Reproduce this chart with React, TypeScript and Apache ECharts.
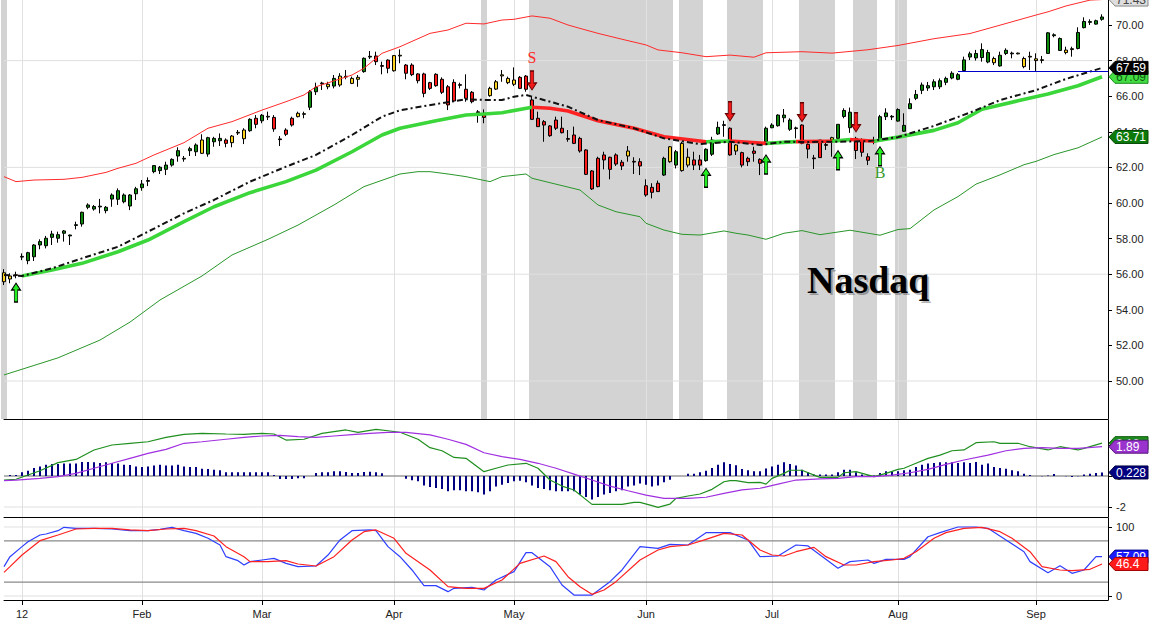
import React, { useEffect, useRef } from "react";
import * as echarts from "echarts";

// ---------- trading days ----------
const decDays = [28, 29, 30];
const janDays = [3, 4, 5, 6, 9, 10, 11, 12, 13, 17, 18, 19, 20, 23, 24, 25, 26, 27, 30, 31];
const febDays = [1, 2, 3, 6, 7, 8, 9, 10, 13, 14, 15, 16, 17, 21, 22, 23, 24, 27, 28, 29];
const marDays = [1, 2, 5, 6, 7, 8, 9, 12, 13, 14, 15, 16, 19, 20, 21, 22, 23, 26, 27, 28, 29, 30];
const aprDays = [2, 3, 4, 5, 9, 10, 11, 12, 13, 16, 17, 18, 19, 20, 23, 24, 25, 26, 27, 30];
const mayDays = [1, 2, 3, 4, 7, 8, 9, 10, 11, 14, 15, 16, 17, 18, 21, 22, 23, 24, 25, 29, 30, 31];
const junDays = [1, 4, 5, 6, 7, 8, 11, 12, 13, 14, 15, 18, 19, 20, 21, 22, 25, 26, 27, 28, 29];
const julDays = [2, 3, 5, 6, 9, 10, 11, 12, 13, 16, 17, 18, 19, 20, 23, 24, 25, 26, 27, 30, 31];
const augDays = [1, 2, 3, 6, 7, 8, 9, 10, 13, 14, 15, 16, 17, 20, 21, 22, 23, 24, 27, 28, 29, 30, 31];
const sepDays = [4, 5, 6, 7, 10, 11, 12, 13, 14, 17, 18, 19];
const monthAbbr = ["Jan", "Feb", "Mar", "Apr", "May", "Jun", "Jul", "Aug", "Sep", "Oct", "Nov", "Dec"];

// ---------- price bars ----------
const opens = [
  56.08, 55.9, 55.97, 56.96, 56.76, 56.98, 57.64, 57.6, 58.07, 58.02,
  58.3, 58.15, 58.74, 58.82, 59.76, 59.66, 59.78, 59.57, 60.22, 60.21,
  60.07, 59.83, 60.52, 60.86, 61.22, 61.76, 61.82, 61.89, 62.13, 62.64,
  62.51, 62.94, 62.88, 63.54, 62.75, 63.44, 63.5, 63.54, 63.76, 63.97,
  64.1, 64.06, 64.76, 64.62, 64.87, 64.81, 63.6, 64.1, 64.76, 65.04,
  65.02, 65.38, 66.25, 66.74, 66.67, 66.57, 67.13, 67.12, 67.0, 67.06,
  67.38, 68.2, 68.26, 67.72, 68.03, 68.28, 68.3, 67.75, 67.75, 67.25,
  67.25, 66.76, 67.23, 66.95, 66.53, 66.78, 66.65, 66.39, 66.22, 65.12,
  65.0, 66.44, 66.81, 67.2, 67.0, 66.91, 67.06, 67.13, 65.79, 64.76,
  64.57, 64.33, 64.66, 64.2, 63.62, 63.82, 63.63, 62.98, 61.8, 62.51,
  62.7, 62.57, 62.7, 62.29, 62.92, 62.34, 62.32, 60.97, 60.88, 61.11,
  61.57, 63.16, 62.13, 63.35, 62.57, 62.42, 62.42, 62.38, 62.74, 63.88,
  64.36, 64.2, 63.26, 62.83, 62.51, 62.92, 62.45, 63.44, 64.23, 64.34,
  64.79, 64.14, 64.22, 64.38, 63.3, 62.53, 63.54, 63.28, 63.67, 63.63,
  64.86, 64.23, 63.63, 63.54, 62.6, 63.5, 63.55, 64.85, 64.83, 64.6,
  64.03, 65.3, 65.88, 66.33, 66.46, 66.53, 66.53, 66.78, 67.02, 66.95,
  67.44, 68.2, 68.15, 68.17, 67.92, 68.12, 67.7, 68.4, 68.38, 68.42,
  68.12, 68.24, 68.1, 68.05, 68.4, 69.4, 68.57, 68.59, 68.67, 68.68,
  69.85, 70.15, 70.05, 70.32,
];
const closes = [
  55.58, 55.73, 55.93, 57.0, 57.21, 57.64, 57.83, 58.02, 58.26, 58.22,
  58.43, 58.2, 58.78, 59.48, 59.89, 59.8, 59.82, 59.76, 60.45, 60.69,
  60.45, 60.45, 60.8, 61.07, 61.26, 62.1, 62.01, 62.13, 62.45, 62.94,
  62.47, 63.05, 63.26, 62.79, 63.67, 63.63, 63.63, 63.35, 63.39, 63.93,
  63.61, 64.7, 64.42, 64.93, 64.83, 64.16, 63.56, 63.86, 64.38, 64.85,
  64.98, 66.25, 66.5, 66.7, 66.53, 67.0, 66.63, 67.08, 66.72, 66.95,
  68.13, 68.24, 67.94, 67.68, 67.57, 67.43, 68.26, 67.29, 67.21, 66.87,
  66.16, 66.44, 66.59, 66.22, 65.51, 65.73, 66.61, 65.88, 65.69, 65.08,
  64.81, 66.03, 66.4, 67.14, 66.76, 66.67, 66.44, 66.39, 64.7, 64.29,
  64.38, 63.78, 64.2, 63.95, 63.58, 63.35, 62.92, 61.61, 60.79, 60.92,
  62.42, 61.89, 62.19, 62.08, 62.64, 62.3, 62.08, 60.45, 60.6, 60.64,
  62.51, 62.32, 62.88, 61.82, 62.13, 62.13, 62.13, 63.02, 63.54, 64.25,
  64.4, 62.7, 62.92, 62.13, 62.32, 62.79, 62.23, 64.2, 64.38, 64.94,
  64.94, 64.66, 64.18, 63.35, 63.03, 62.49, 62.55, 63.24, 63.54, 64.42,
  65.2, 65.1, 62.95, 62.85, 62.4, 63.42, 64.85, 65.06, 64.87, 65.25,
  64.36, 65.58, 66.1, 66.63, 66.59, 66.81, 66.87, 67.0, 67.29, 67.21,
  68.04, 68.38, 68.4, 68.62, 68.45, 67.88, 68.3, 68.58, 68.42, 68.38,
  67.66, 68.2, 68.0, 68.01, 69.56, 69.45, 69.24, 68.45, 68.62, 69.58,
  70.2, 70.19, 70.24, 70.45,
];
const highs = [
  56.28, 56.05, 56.14, 57.17, 57.26, 57.69, 57.96, 58.15, 58.44, 58.39,
  58.48, 58.22, 58.95, 59.51, 59.98, 59.89, 60.23, 59.83, 60.54, 60.82,
  60.54, 60.5, 60.91, 61.29, 61.44, 62.13, 62.08, 62.32, 62.51, 63.13,
  62.64, 63.16, 63.35, 63.86, 63.72, 63.72, 63.91, 63.63, 63.82, 64.1,
  64.2, 64.76, 64.94, 65.0, 65.13, 64.94, 63.76, 64.2, 64.85, 65.13,
  65.13, 66.35, 66.76, 66.81, 66.81, 67.19, 67.29, 67.47, 67.1, 67.19,
  68.18, 68.54, 68.5, 67.94, 68.07, 68.31, 68.63, 67.81, 67.85, 67.29,
  67.32, 66.81, 67.29, 67.06, 66.63, 66.95, 66.76, 67.23, 66.29, 65.22,
  65.26, 66.53, 66.91, 67.47, 67.1, 67.62, 67.13, 67.19, 65.97, 65.13,
  64.66, 64.38, 64.85, 64.85, 64.1, 64.29, 63.72, 63.02, 61.85, 62.6,
  62.88, 62.6, 62.79, 62.42, 63.2, 62.57, 62.51, 61.33, 61.11, 61.26,
  62.6, 63.2, 62.98, 63.44, 63.07, 62.88, 62.7, 63.07, 63.72, 64.57,
  64.62, 64.25, 63.3, 62.88, 62.6, 63.16, 62.51, 64.29, 64.48, 64.98,
  65.28, 64.76, 64.29, 64.42, 63.35, 62.7, 63.54, 63.41, 63.72, 64.42,
  65.32, 65.36, 63.72, 63.63, 62.79, 63.72, 64.95, 65.32, 64.94, 65.32,
  65.04, 65.88, 66.35, 66.77, 66.8, 66.95, 67.0, 67.1, 67.4, 67.3,
  68.22, 68.5, 68.6, 68.97, 68.6, 68.22, 68.5, 68.69, 68.5, 68.45,
  68.22, 68.5, 68.41, 68.26, 69.6, 69.53, 69.3, 68.78, 68.78, 69.87,
  70.43, 70.32, 70.3, 70.6,
];
const lows = [
  55.39, 55.49, 55.77, 56.79, 56.56, 56.74, 57.4, 57.45, 57.64, 57.77,
  57.83, 57.64, 58.52, 58.67, 59.65, 59.57, 59.42, 59.42, 59.79, 59.89,
  59.98, 59.6, 60.17, 60.69, 60.95, 61.67, 61.63, 61.57, 62.04, 62.32,
  62.32, 62.64, 62.64, 62.75, 62.6, 63.16, 63.2, 63.13, 63.13, 63.82,
  63.31, 64.0, 64.2, 64.48, 64.66, 64.0, 63.2, 63.76, 64.29, 64.81,
  64.76, 65.22, 66.07, 66.35, 66.39, 66.44, 66.53, 66.95, 66.68, 66.53,
  67.32, 68.09, 67.75, 67.23, 67.29, 67.38, 67.85, 66.95, 67.13, 66.72,
  65.94, 66.35, 66.53, 66.12, 65.22, 65.69, 66.44, 65.69, 65.6, 64.51,
  64.48, 65.97, 66.35, 66.81, 66.68, 66.57, 66.4, 66.25, 64.66, 64.29,
  63.44, 63.72, 64.1, 63.91, 63.44, 63.31, 62.83, 61.57, 60.73, 60.88,
  61.89, 61.33, 62.08, 61.85, 62.32, 61.63, 61.57, 60.35, 60.26, 60.64,
  61.52, 62.26, 61.94, 61.76, 62.0, 61.85, 61.85, 62.32, 62.64, 63.82,
  63.72, 62.66, 62.7, 62.0, 62.08, 62.32, 61.57, 63.41, 64.2, 64.29,
  64.53, 64.05, 63.63, 63.3, 62.51, 61.91, 62.55, 62.98, 62.6, 63.63,
  64.76, 63.94, 62.47, 62.6, 62.13, 63.3, 63.5, 64.66, 64.66, 64.57,
  64.0, 65.28, 65.78, 66.12, 66.3, 66.35, 66.4, 66.62, 66.95, 66.9,
  67.43, 68.03, 68.0, 67.94, 67.85, 67.75, 67.66, 68.31, 68.13, 68.35,
  67.57, 67.47, 67.42, 67.85, 68.38, 69.31, 68.55, 68.35, 68.22, 68.63,
  69.81, 70.0, 70.02, 70.24,
];
// impulse colour per bar: G green, R red, Y yellow
const impulse =
  "YYRGGGGGGG" + "GGGGGGGGGG" + "GGGGGGGGGG" + "YGGYGGGRYY" + "YGRGYRRRRY" +
  "YGGRYGYYYY" + "GGRRRYYRRR" + "RRRRRRRRRR" + "RYYYYYRRRR" + "RRRRRRRRRR" +
  "RRRRYRRRRR" + "GYGYYRRGGG" + "GRYRRRRGGG" + "GGYRRRRRYG" + "GGRRRRGGGG" +
  "GGGGGGGGGG" + "GGGGGYGGGY" + "YYYYGGGYYG" + "GGGG";

// ---------- overlays (bar index, value) ----------
const upperBand = [
  [0, 61.48], [2, 61.2], [5, 61.29], [10, 61.33], [13, 61.44], [17, 61.72], [19, 61.95], [22, 62.23],
  [25, 62.7], [30, 63.39], [34, 64.2], [38, 64.57], [43, 65.22], [47, 65.69], [50, 66.07], [52, 66.53],
  [58, 67.19], [60, 67.57], [63, 68.41], [66, 68.78], [71, 69.53], [74, 69.72], [77, 70.1], [80, 70.06],
  [83, 70.28], [85, 70.32], [88, 70.51], [91, 70.38], [94, 70.0], [96, 69.81], [99, 69.53], [103, 69.2],
  [107, 68.88], [109, 68.6], [113, 68.44], [117, 68.22], [121, 68.31], [125, 68.19], [127, 68.44],
  [133, 68.5], [138, 68.42], [144, 68.61], [149, 68.85], [155, 69.23], [161, 69.52], [166, 69.99],
  [172, 70.56], [174, 70.74], [177, 71.07], [181, 71.4], [183, 71.43],
];
const lowerBand = [
  [0, 50.34], [9, 51.3], [16, 52.3], [21, 53.31], [26, 54.55], [33, 55.9], [38, 57.08], [44, 57.96],
  [49, 58.76], [55, 59.89], [60, 60.92], [66, 61.63], [69, 61.76], [71, 61.76], [74, 61.63], [77, 61.48],
  [81, 61.2], [83, 61.48], [87, 61.63], [88, 61.39], [91, 61.14], [96, 60.73], [99, 59.89], [102, 59.51],
  [106, 59.23], [107, 58.86], [110, 58.48], [113, 58.24], [116, 58.2], [120, 58.43], [122, 58.3],
  [124, 58.2], [127, 57.96], [130, 58.3], [133, 58.45], [136, 58.22], [141, 58.47], [146, 58.19],
  [149, 58.51], [151, 58.56], [155, 59.61], [159, 60.36], [162, 61.06], [166, 61.58], [170, 62.15],
  [172, 62.34], [175, 62.72], [179, 63.1], [183, 63.71],
];
const midBand = [
  [0, 55.96], [3, 55.9], [8, 56.33], [13, 56.89], [19, 57.54], [24, 58.39], [30, 59.42], [35, 60.17],
  [41, 61.2], [47, 62.04], [52, 62.7], [58, 63.82], [63, 64.85], [66, 65.21], [72, 65.56], [77, 65.83],
  [80, 65.79], [83, 65.79], [85, 65.97], [87, 66.07], [89, 65.88], [94, 65.41], [99, 64.66], [105, 64.2],
  [110, 63.63], [116, 63.31], [121, 63.44], [126, 63.26], [130, 63.44], [133, 63.43], [138, 63.44],
  [144, 63.47], [149, 63.7], [155, 64.33], [161, 65.08], [166, 65.78], [172, 66.34], [177, 66.97],
  [183, 67.59],
];
const thickMA = [
  [3, 55.9], [8, 56.24], [13, 56.61], [19, 57.26], [24, 57.92], [30, 58.95], [35, 59.79], [41, 60.58],
  [47, 61.2], [52, 61.85], [58, 62.88], [63, 63.82], [66, 64.2], [72, 64.62], [77, 64.94], [80, 65.0],
  [83, 65.07], [88, 65.38], [91, 65.32], [94, 65.17], [99, 64.62], [105, 64.2], [110, 63.72], [117, 63.44],
  [121, 63.48], [127, 63.35], [132, 63.45], [138, 63.47], [141, 63.57], [145, 63.47], [149, 63.7],
  [155, 64.08], [159, 64.51], [163, 65.27], [169, 65.74], [174, 66.12], [179, 66.59], [183, 67.09],
];
const thickSegments = [
  [3, 88, "G"], [88, 117, "R"], [117, 121, "G"], [121, 127, "R"], [127, 132, "G"],
  [132, 138, "R"], [138, 141, "G"], [141, 145, "R"], [145, 183, "G"],
];
const shadedRanges = [[0, 0], [80, 80], [88, 111], [113, 116], [121, 126], [133, 138], [142, 145], [149, 150]];
const buySignals = [[2, 55.5], [117, 61.95], [127, 62.7], [139, 62.94], [146, 63.16]];
const sellSignals = [[88, 66.35], [121, 64.62], [133, 64.57], [142, 64.0]];
const signalLetters = [[88, 68.15, "S"], [146, 61.72, "B"]];
const supportLine = [159, 184, 67.4];
const priceTicks = [50, 52, 54, 56, 58, 60, 62, 64, 66, 68, 70];
const priceGridLines = [50, 56, 62, 68];

// ---------- MACD ----------
const macdLine = [
  [0, -0.26], [2, -0.21], [6, 0.34], [9, 0.86], [12, 1.07], [15, 1.68], [18, 2.0], [21, 2.11], [24, 2.21],
  [27, 2.49], [30, 2.69], [33, 2.75], [37, 2.71], [40, 2.69], [43, 2.75], [45, 2.71], [47, 2.32], [50, 2.37],
  [53, 2.75], [57, 2.97], [59, 2.82], [62, 3.01], [64, 2.92], [66, 2.82], [69, 2.37], [71, 1.83], [73, 1.63],
  [75, 1.2], [77, 1.14], [80, 0.28], [82, 0.5], [84, 0.71], [87, 0.82], [89, 0.5], [91, -0.26], [93, -0.65],
  [95, -0.9], [98, -1.83], [101, -1.83], [103, -1.83], [105, -1.7], [106, -1.7], [108, -1.91], [109, -2.02],
  [111, -1.81], [112, -1.44], [114, -1.29], [116, -1.16], [118, -0.86], [120, -0.37], [121, -0.3],
  [122, -0.3], [124, -0.43], [126, -0.41], [127, -0.52], [128, -0.15], [130, 0.17], [131, 0.37], [133, 0.37],
  [135, 0.06], [136, -0.09], [139, -0.09], [140, 0.21], [142, 0.28], [145, -0.04], [147, 0.17], [149, 0.43],
  [150, 0.5], [152, 0.82], [154, 1.14], [156, 1.35], [158, 1.63], [160, 1.68], [162, 2.15], [165, 2.21],
  [166, 2.11], [169, 2.11], [171, 1.89], [174, 1.68], [176, 1.89], [179, 1.68], [180, 1.78], [183, 2.12],
];
const signalLine = [
  [0, -0.3], [2, -0.26], [6, -0.15], [9, -0.04], [12, 0.17], [15, 0.5], [18, 0.82], [21, 1.14], [24, 1.46],
  [27, 1.72], [30, 2.11], [33, 2.21], [37, 2.37], [40, 2.49], [43, 2.58], [46, 2.62], [49, 2.54], [52, 2.49],
  [55, 2.58], [58, 2.67], [61, 2.75], [64, 2.82], [67, 2.82], [71, 2.65], [74, 2.37], [77, 2.04], [80, 1.5],
  [83, 1.25], [86, 1.07], [89, 0.82], [92, 0.5], [95, 0.12], [98, -0.26], [101, -0.65], [104, -0.95],
  [107, -1.23], [110, -1.44], [114, -1.44], [117, -1.37], [120, -1.12], [123, -0.9], [126, -0.79],
  [129, -0.52], [132, -0.26], [136, -0.19], [139, -0.15], [142, -0.04], [145, -0.04], [148, 0.06],
  [151, 0.21], [154, 0.43], [157, 0.75], [160, 1.03], [164, 1.35], [167, 1.63], [170, 1.78], [173, 1.83],
  [176, 1.78], [179, 1.78], [183, 1.89],
];
const histogram = [
  0, 0.06, 0.06, 0.24, 0.34, 0.52, 0.62, 0.73, 0.77, 0.77,
  0.8, 0.8, 0.8, 0.9, 0.9, 0.88, 0.84, 0.88, 0.84, 0.8,
  0.73, 0.71, 0.62, 0.58, 0.62, 0.67, 0.73, 0.67, 0.67, 0.73,
  0.62, 0.58, 0.58, 0.47, 0.45, 0.41, 0.37, 0.24, 0.24, 0.24,
  0.24, 0.24, 0.24, 0.24, 0.24, 0.06, -0.19, -0.19, -0.19, -0.15,
  -0.15, 0, 0.19, 0.24, 0.24, 0.3, 0.3, 0.26, 0.19, 0.19,
  0.26, 0.28, 0.24, 0.17, 0, 0, 0, -0.17, -0.28, -0.34,
  -0.62, -0.71, -0.77, -0.84, -0.99, -0.92, -0.92, -0.99, -0.99, -1.05,
  -1.2, -0.99, -0.67, -0.56, -0.45, -0.34, -0.3, -0.41, -0.62, -0.77,
  -0.84, -0.92, -0.99, -0.99, -0.99, -0.99, -1.2, -1.35, -1.52, -1.35,
  -1.2, -1.1, -0.99, -0.92, -0.67, -0.62, -0.49, -0.56, -0.67, -0.62,
  -0.41, -0.24, 0, 0, 0.15, 0.15, 0.24, 0.34, 0.52, 0.73,
  0.88, 0.77, 0.69, 0.45, 0.37, 0.3, 0.3, 0.49, 0.62, 0.73,
  0.88, 0.77, 0.67, 0.41, 0.24, 0.09, 0.09, 0.09, 0.09, 0.24,
  0.41, 0.41, 0.24, 0.09, 0.04, 0.04, 0.19, 0.3, 0.3, 0.3,
  0.37, 0.41, 0.58, 0.73, 0.8, 0.84, 0.88, 0.88, 0.88, 0.84,
  0.88, 0.84, 0.9, 0.73, 0.8, 0.58, 0.52, 0.47, 0.37, 0.3,
  0.15, 0.06, 0, -0.02, 0.04, 0.13, 0, -0.02, -0.06, -0.02,
  0.09, 0.15, 0.19, 0.228,
];
const macdTicks = [-2, 0, 2];

// ---------- Stochastics ----------
const stochK = [
  [0, 42.5], [1, 57], [3, 71.5], [4, 78.7], [6, 88.4], [7, 89.9], [9, 94.7], [10, 99.5], [12, 98.1], [15, 98.1],
  [18, 97.1], [21, 94.7], [24, 94.7], [26, 96.6], [28, 99.5], [30, 94.7], [32, 90.8], [34, 83.6], [36, 73.9],
  [37, 57], [39, 51.2], [40, 44.9], [41, 49.8], [43, 52.2], [45, 54.6], [47, 47.3], [49, 42.5], [52, 43.5],
  [54, 59.4], [56, 81.2], [58, 94.7], [61, 95.7], [62, 94.7], [64, 71.5], [66, 57], [68, 37.7], [70, 15],
  [72, 15], [74, 6.3], [75, 11.1], [78, 12.6], [80, 8.7], [82, 23.2], [85, 35.3], [87, 62.8], [88, 62.8],
  [91, 42.5], [93, 15.9], [95, 1.4], [98, 1.4], [101, 20.8], [103, 37.7], [106, 71.5], [109, 69.1],
  [111, 74.9], [114, 73.9], [117, 91.8], [121, 91.8], [124, 81.2], [126, 57], [129, 58], [132, 73.9],
  [134, 72.5], [139, 40.1], [141, 49.8], [144, 52.2], [145, 47.3], [147, 53.1], [150, 53.1], [151, 57],
  [154, 85.9], [156, 91.8], [159, 100], [162, 100], [164, 98.1], [167, 81.2], [170, 64.2], [171, 49.8],
  [174, 33.8], [176, 43.9], [178, 32.9], [180, 37.7], [182, 57], [183, 57.09],
];
const stochD = [
  [0, 34.3], [1, 42.5], [3, 59.4], [6, 80.2], [9, 88.4], [12, 97.1], [15, 98.1], [18, 98.1], [21, 95.7],
  [24, 94.7], [27, 97.1], [30, 98.1], [32, 94.7], [35, 87], [37, 71.5], [40, 57], [41, 49.8], [44, 49.8],
  [47, 51.2], [49, 46.4], [52, 43.5], [55, 57], [58, 81.2], [60, 93.2], [62, 95.7], [65, 83.6], [67, 61.8],
  [71, 37.7], [74, 13.5], [77, 11.1], [80, 11.1], [83, 23.2], [86, 47.3], [90, 58], [92, 49.8], [94, 28],
  [96, 13.5], [98, 2.4], [100, 8.7], [102, 20.8], [106, 52.2], [109, 66.7], [111, 71.5], [114, 73.9],
  [117, 82.1], [120, 90.8], [123, 88.4], [126, 66.7], [128, 59.4], [130, 58], [132, 64.2], [135, 70.5],
  [137, 57], [140, 44.9], [142, 44.9], [145, 49.8], [148, 52.2], [150, 54.6], [152, 64.2], [155, 83.6],
  [157, 91.8], [160, 98.1], [163, 99.5], [166, 93.2], [168, 83.6], [171, 64.2], [173, 42.5], [176, 37.7],
  [178, 36.7], [181, 38.7], [183, 46.4],
];
const stochTicks = [0, 100];

// ---------- last-value tags ----------
const tagAxes = [0, 0, 0, 0, 1, 1, 1, 2, 2];
const tagValues = [71.43, 67.09, 67.59, 63.71, 2.12, 1.89, 0.228, 57.09, 46.4];
const tagTexts = ["71.43", "67.09", "67.59", "63.71", "2.12", "1.89", "0.228", "57.09", "46.4"];
const tagFills = ["#dedede", "#44dd44", "#000000", "#0b7a0b", "#1f8f1f", "#9a32cd", "#000080", "#1a1aff", "#ff1a1a"];
const tagInks = ["#444", "#0b5a0b", "#ffffff", "#ffffff", "#ffffff", "#ffffff", "#ffffff", "#ffffff", "#ffffff"];
const tagStrokes = ["#888", "#1a8a1a", "#000", "#064a06", "#0d5d0d", "#5a1a80", "#000040", "#000080", "#a00000"];

// ---------- build ----------
const GREEN = "#0b8a0b";
const RED = "#ff1a1a";
const YELLOW = "#ffd21f";

function buildCategories() {
  const out: string[] = [];
  const add = (y: number, m: number, days: number[]) =>
    days.forEach((d) => out.push(`${y}-${String(m).padStart(2, "0")}-${String(d).padStart(2, "0")}`));
  add(2011, 12, decDays);
  add(2012, 1, janDays);
  add(2012, 2, febDays);
  add(2012, 3, marDays);
  add(2012, 4, aprDays);
  add(2012, 5, mayDays);
  add(2012, 6, junDays);
  add(2012, 7, julDays);
  add(2012, 8, augDays);
  add(2012, 9, sepDays);
  out.push("");
  return out;
}

const categories = buildCategories();
const monthStart = new Set<number>();
for (let i = 1; i < categories.length - 1; i++) {
  if (categories[i].slice(5, 7) !== categories[i - 1].slice(5, 7)) monthStart.add(i);
}
const isMonthStart = (i: number) => monthStart.has(i);
const monthLabel = (i: number) => {
  const c = categories[i];
  if (!c || !monthStart.has(i)) return "";
  const m = parseInt(c.slice(5, 7), 10);
  return m === 1 ? c.slice(2, 4) : monthAbbr[m - 1];
};

const UP_ARROW = "path://M4.5,0 L9,7 L6.2,7 L6.2,19 L2.8,19 L2.8,7 L0,7 Z";
const DOWN_ARROW = "path://M2.8,0 L6.2,0 L6.2,12 L9,12 L4.5,19 L0,12 L2.8,12 Z";
const LABEL_FONT = "Liberation Sans";

function thickData(color: string) {
  const out: any[] = [];
  thickSegments
    .filter((s) => s[2] === color)
    .forEach((s) => {
      const a = s[0] as number;
      const b = s[1] as number;
      thickMA.filter((p) => p[0] >= a && p[0] <= b).forEach((p) => out.push(p));
      out.push([b, null]);
    });
  return out;
}

function hLineSeries(grid: number, values: number[], color: string, width: number) {
  return {
    type: "custom",
    xAxisIndex: grid,
    yAxisIndex: grid,
    z: 0,
    silent: true,
    data: values.map((v) => [0, v]),
    renderItem: (params: any, api: any) => {
      const cs = params.coordSys;
      const y = api.coord([0, api.value(1)])[1];
      return {
        type: "line",
        shape: { x1: cs.x, y1: y, x2: cs.x + cs.width, y2: y },
        style: { stroke: color, lineWidth: width },
      };
    },
  };
}

function lineSeries(grid: number, data: any[], color: string, width: number, z = 3, type: any = "solid") {
  return {
    type: "line",
    xAxisIndex: grid,
    yAxisIndex: grid,
    data,
    showSymbol: false,
    symbol: "none",
    silent: true,
    z,
    lineStyle: { color, width, type },
  };
}

function buildOption() {
  const candleData = opens.map((o, i) => {
    const c = impulse[i] === "G" ? GREEN : impulse[i] === "R" ? RED : YELLOW;
    return {
      value: [o, closes[i], lows[i], highs[i]],
      itemStyle: { color: c, color0: c, borderColor: "#000", borderColor0: "#000", borderWidth: 1 },
    };
  });

  const xAxisBase = (grid: number) => ({
    type: "category",
    gridIndex: grid,
    data: categories,
    boundaryGap: false,
    axisLine: { show: true, onZero: false, lineStyle: { color: "#000", width: 1 } },
    axisTick: { show: grid === 2, interval: isMonthStart, length: 5, lineStyle: { color: "#000" } },
    axisLabel: {
      show: grid === 2,
      interval: isMonthStart,
      formatter: (_v: any, i: number) => monthLabel(i),
      color: "#222",
      fontSize: 11,
      fontFamily: LABEL_FONT,
      margin: 8,
    },
    splitLine: { show: true, interval: isMonthStart, lineStyle: { color: "#e0e0e0", width: 1 } },
  });

  const yAxisBase = (grid: number, min: number, max: number, ticks: number[], fmt: (v: number) => string) => ({
    type: "value",
    gridIndex: grid,
    position: "right",
    min,
    max,
    axisLine: { show: true, lineStyle: { color: "#000", width: 1 } },
    axisTick: { show: true, length: 4, customValues: ticks, lineStyle: { color: "#000" } },
    axisLabel: {
      show: true,
      customValues: ticks,
      formatter: fmt,
      color: "#222",
      fontSize: 11,
      fontFamily: LABEL_FONT,
      margin: 8,
    },
    splitLine: { show: false },
  });

  const markPoints: any[] = [];
  buySignals.forEach(([i, p]) =>
    markPoints.push({
      coord: [i, p],
      symbol: UP_ARROW,
      symbolSize: [9, 19],
      symbolOffset: [0, 9.5],
      itemStyle: { color: "#22ee22", borderColor: "#000", borderWidth: 1 },
      label: { show: false },
    })
  );
  sellSignals.forEach(([i, p]) =>
    markPoints.push({
      coord: [i, p],
      symbol: DOWN_ARROW,
      symbolSize: [9, 19],
      symbolOffset: [0, -9.5],
      itemStyle: { color: "#f01818", borderColor: "#600", borderWidth: 1 },
      label: { show: false },
    })
  );
  signalLetters.forEach(([i, p, t]) =>
    markPoints.push({
      coord: [i, p],
      symbol: "circle",
      symbolSize: 1,
      itemStyle: { color: "rgba(0,0,0,0)" },
      label: {
        show: true,
        position: "inside",
        formatter: t as string,
        color: t === "S" ? "#ff2a2a" : "#3a9a2a",
        fontSize: 16,
        fontFamily: "Liberation Serif",
      },
    })
  );

  return {
    animation: false,
    backgroundColor: "#ffffff",
    grid: [
      { left: 4, right: 46, top: 0, height: 419 },
      { left: 4, right: 46, top: 420, height: 97 },
      { left: 4, right: 46, top: 518, height: 82 },
    ],
    xAxis: [xAxisBase(0), xAxisBase(1), xAxisBase(2)],
    yAxis: [
      yAxisBase(0, 47.865, 71.4045, priceTicks, (v) => v.toFixed(2)),
      yAxisBase(1, -2.645, 3.613, macdTicks, (v) => String(v)),
      yAxisBase(2, -5.8, 113.04, stochTicks, (v) => String(v)),
    ],
    series: [
      {
        type: "custom",
        xAxisIndex: 0,
        yAxisIndex: 0,
        z: -1,
        silent: true,
        clip: false,
        data: shadedRanges,
        renderItem: (params: any, api: any) => {
          const cs = params.coordSys;
          const w = api.size([1, 0])[0];
          const x0 = api.coord([api.value(0), 60])[0] - w / 2;
          const x1 = api.coord([api.value(1), 60])[0] + w / 2;
          return {
            type: "rect",
            shape: { x: Math.max(0, x0), y: cs.y, width: x1 - Math.max(0, x0), height: cs.height },
            style: { fill: "#d3d3d3" },
          };
        },
      },
      hLineSeries(0, priceGridLines, "#e0e0e0", 1),
      hLineSeries(1, [-2], "#e0e0e0", 1),
      hLineSeries(1, [0], "#9a9a9a", 1.3),
      hLineSeries(2, [0, 100], "#e0e0e0", 1),
      hLineSeries(2, [20, 80], "#8a8a8a", 1.2),
      {
        type: "candlestick",
        xAxisIndex: 0,
        yAxisIndex: 0,
        z: 2,
        barWidth: 4,
        silent: true,
        data: candleData,
      },
      lineSeries(0, upperBand, "#ff2a2a", 1),
      lineSeries(0, lowerBand, "#2a962a", 1),
      lineSeries(0, thickData("G"), "#3ad63a", 3.6),
      lineSeries(0, thickData("R"), "#ff2222", 3.6),
      {
        ...lineSeries(0, midBand, "#111111", 2, 4, [6, 3, 2, 3]),
        markPoint: { silent: true, data: markPoints },
        markLine: {
          silent: true,
          symbol: ["none", "none"],
          label: { show: false },
          lineStyle: { color: "#0000cc", width: 1, type: "solid" },
          data: [[{ coord: [supportLine[0], supportLine[2]] }, { coord: [supportLine[1], supportLine[2]] }]],
        },
      },
      {
        type: "bar",
        xAxisIndex: 1,
        yAxisIndex: 1,
        data: histogram,
        barWidth: 2,
        silent: true,
        z: 2,
        itemStyle: { color: "#000080" },
      },
      lineSeries(1, macdLine, "#1f8f1f", 1.2),
      lineSeries(1, signalLine, "#a030e0", 1.2),
      lineSeries(2, stochK, "#2f3fff", 1.2),
      lineSeries(2, stochD, "#ff2020", 1.2),
    ],
  };
}

export default function App() {
  const ref = useRef<HTMLDivElement>(null);
  useEffect(() => {
    if (!ref.current) return;
    const chart = echarts.init(ref.current, null, { renderer: "svg" });
    chart.setOption(buildOption() as any);
    const els: any[] = [];
    tagValues.forEach((v, k) => {
      const y = chart.convertToPixel({ yAxisIndex: tagAxes[k] } as any, v) as unknown as number;
      const x = 1109;
      els.push({
        type: "polygon",
        z: 100 + k * 2,
        silent: true,
        shape: { points: [[x, y], [x + 6, y - 6.5], [x + 39, y - 6.5], [x + 39, y + 6.5], [x + 6, y + 6.5]] },
        style: { fill: tagFills[k], stroke: tagStrokes[k], lineWidth: 1 },
      });
      els.push({
        type: "text",
        z: 101 + k * 2,
        silent: true,
        x: x + 7,
        y: y + 0.5,
        style: {
          text: tagTexts[k],
          fill: tagInks[k],
          font: `12px "${LABEL_FONT}"`,
          align: "left",
          verticalAlign: "middle",
          textAlign: "left",
          textVerticalAlign: "middle",
        },
      });
    });
    els.push({
      type: "text",
      z: 90,
      silent: true,
      x: 809,
      y: 282,
      style: {
        text: "Nasdaq",
        fill: "rgba(0,0,0,0.28)",
        font: 'bold 38px "Liberation Serif"',
        verticalAlign: "middle",
        textVerticalAlign: "middle",
      },
    });
    els.push({
      type: "text",
      z: 91,
      silent: true,
      x: 807,
      y: 280,
      style: {
        text: "Nasdaq",
        fill: "#000",
        font: 'bold 38px "Liberation Serif"',
        verticalAlign: "middle",
        textVerticalAlign: "middle",
      },
    });
    chart.setOption({ graphic: els });
    return () => chart.dispose();
  }, []);
  return (
    <div
      ref={ref}
      style={{ position: "absolute", left: 0, top: 0, width: 1154, height: 625, background: "#fff" }}
    />
  );
}
